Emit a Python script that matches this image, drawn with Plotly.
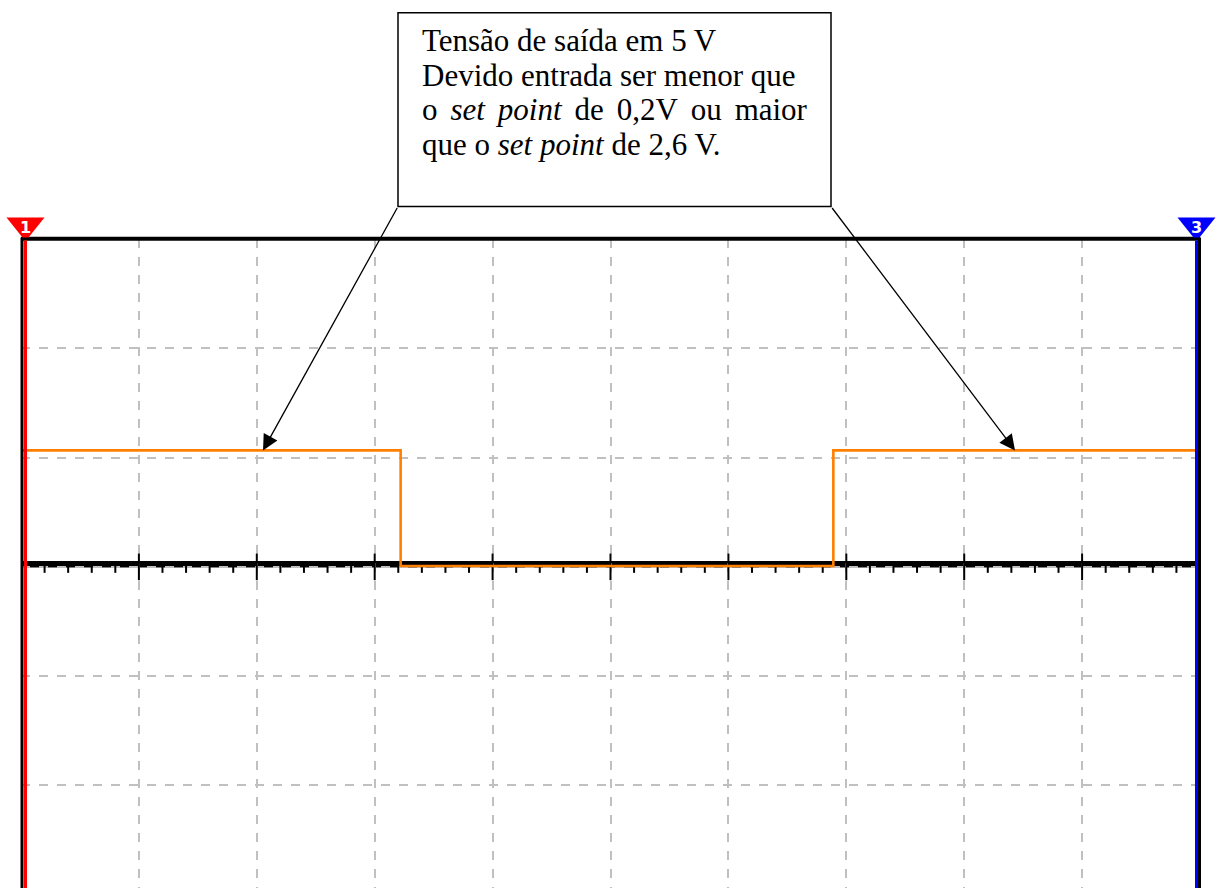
import numpy as np
import plotly.graph_objects as go

# ---- data -------------------------------------------------------------
# output signal (time in divisions, voltage in V, 5 V/div)
t_out = [0.0, 3.22, 6.89, 10.0]
v_out = [5.33, 0.04, 5.33, 5.33]
V_HIGH = v_out[0]

# graticule
x_div = [0, 10]
y_range = [-14.69, 15]
v_per_div = 5

# note text; the third line is justified with wider spaces
WIDE = "\u2004\u200a"
note_lines = [
    "Tensão de saída em 5 V",
    "Devido entrada ser menor que",
    WIDE.join(["o", "<i>set", "point</i>", "de", "0,2V", "ou", "maior"]),
    "que o <i>set point</i> de 2,6 V.",
]

# ---- layout geometry (pixels) ----------------------------------------
W, H = 1218, 888
ML, MR, MT, MB = 21, 18, 239, 0
PW, PH = W - ML - MR, H - MT - MB


def px_to_paper_x(px):
    return (px - ML) / PW


def px_to_paper_y(py):
    return (H - MB - py) / PH


def px_to_x(px):
    return x_div[0] + (px - ML) / PW * (x_div[1] - x_div[0])


def px_to_y(py):
    return y_range[1] - (py - MT) / PH * (y_range[1] - y_range[0])


fig = go.Figure()

# small ticks on the centre line (5 per division) and major ticks
minor_x = [v for v in np.round(np.arange(0.2, 10.0, 0.2), 2) if abs(v - round(v)) > 1e-6]
major_x = list(range(1, 10))
fig.add_trace(go.Scatter(
    x=minor_x, y=[-0.08] * len(minor_x), mode="markers",
    marker=dict(symbol="line-ns", size=6, line=dict(color="black", width=2)),
    hoverinfo="skip"))
fig.add_trace(go.Scatter(
    x=major_x, y=[0] * len(major_x), mode="markers",
    marker=dict(symbol="line-ns", size=19, line=dict(color="black", width=2)),
    hoverinfo="skip"))

# output trace
fig.add_trace(go.Scatter(
    x=t_out, y=v_out, mode="lines", line_shape="hv",
    line=dict(color="#ff8000", width=2.6), hoverinfo="skip"))

shapes = []
# centre line of the screen
shapes.append(dict(type="line", xref="x", yref="y", ysizemode="pixel", yanchor=0,
                   x0=x_div[0], x1=x_div[1], y0=2.6, y1=2.6,
                   line=dict(color="black", width=6.5), layer="below"))
# frame: top, left and right edges (paper refs so they are not clipped)
shapes.append(dict(type="line", xref="paper", yref="paper", ysizemode="pixel", yanchor=1,
                   x0=0, x1=1, y0=0.3, y1=0.3,
                   line=dict(color="black", width=4), layer="above"))
shapes.append(dict(type="line", xref="paper", yref="paper", xsizemode="pixel", xanchor=0,
                   x0=1.0, x1=1.0, y0=0, y1=1 + 1.5 / PH,
                   line=dict(color="black", width=3), layer="above"))
shapes.append(dict(type="line", xref="paper", yref="paper", xsizemode="pixel", xanchor=0,
                   x0=4.5, x1=4.5, y0=0, y1=1 - 1.5 / PH,
                   line=dict(color="red", width=3), layer="above"))
shapes.append(dict(type="line", xref="paper", yref="paper", xsizemode="pixel", xanchor=1,
                   x0=-0.5, x1=-0.5, y0=0, y1=1 + 1.5 / PH,
                   line=dict(color="black", width=3), layer="above"))
shapes.append(dict(type="line", xref="paper", yref="paper", xsizemode="pixel", xanchor=1,
                   x0=-3.5, x1=-3.5, y0=0, y1=1 - 1.5 / PH,
                   line=dict(color="blue", width=3), layer="above"))
# channel markers at the top corners
for xa, off, col in [(0, 4.5, "red"), (1, -3.5, "blue")]:
    shapes.append(dict(
        type="path", xref="paper", yref="paper", xsizemode="pixel", ysizemode="pixel",
        xanchor=xa, yanchor=1,
        path=f"M{off-19},21.5 L{off+19},21.5 L{off+3},1.5 L{off-3},1.5 Z",
        fillcolor=col, line=dict(width=0), layer="above"))

# note box
shapes.append(dict(type="rect", xref="paper", yref="paper",
                   x0=px_to_paper_x(398), x1=px_to_paper_x(831),
                   y0=px_to_paper_y(206.5), y1=px_to_paper_y(12.7),
                   line=dict(color="black", width=1.5), fillcolor="white", layer="above"))

annotations = []
FONT = dict(family="Liberation Serif, Times New Roman, serif", size=31, color="black")
line_centres = [40.5, 75.0, 109.5, 144.0]
for txt, yc in zip(note_lines, line_centres):
    annotations.append(dict(text=txt, xref="paper", yref="paper",
                            x=px_to_paper_x(420.7), y=px_to_paper_y(yc),
                            xanchor="left", yanchor="middle", showarrow=False,
                            borderpad=0, font=FONT))

# arrows from the box corners to the high level of the output
for tip_px, tail_px in [(263, 398), (1015, 831)]:
    annotations.append(dict(text="", xref="x", yref="y", axref="x", ayref="y",
                            x=px_to_x(tip_px), y=V_HIGH,
                            ax=px_to_x(tail_px), ay=px_to_y(206.5),
                            showarrow=True, arrowhead=2, arrowsize=2.4,
                            arrowwidth=1.3, arrowcolor="black"))

# channel numbers inside the markers
for xpx, label in [(ML + 4.5, "1"), (ML + PW - 3.5, "3")]:
    annotations.append(dict(text=f"<b>{label}</b>", xref="paper", yref="paper",
                            x=px_to_paper_x(xpx), y=px_to_paper_y(227.5),
                            xanchor="center", yanchor="middle", showarrow=False,
                            borderpad=0,
                            font=dict(family="DejaVu Sans", size=16, color="white")))

grid = dict(showgrid=True, gridcolor="#c0c0c0", gridwidth=2, griddash="9px,9px",
            zeroline=False, showticklabels=False, ticks="", showline=False, fixedrange=True)

fig.update_layout(
    width=W, height=H,
    margin=dict(l=ML, r=MR, t=MT, b=MB, pad=0),
    paper_bgcolor="white", plot_bgcolor="white",
    showlegend=False,
    xaxis=dict(range=x_div, dtick=1, tick0=0, **grid),
    yaxis=dict(range=y_range, dtick=v_per_div, tick0=0, **grid),
    shapes=shapes, annotations=annotations,
)

fig.write_html("out.html")
